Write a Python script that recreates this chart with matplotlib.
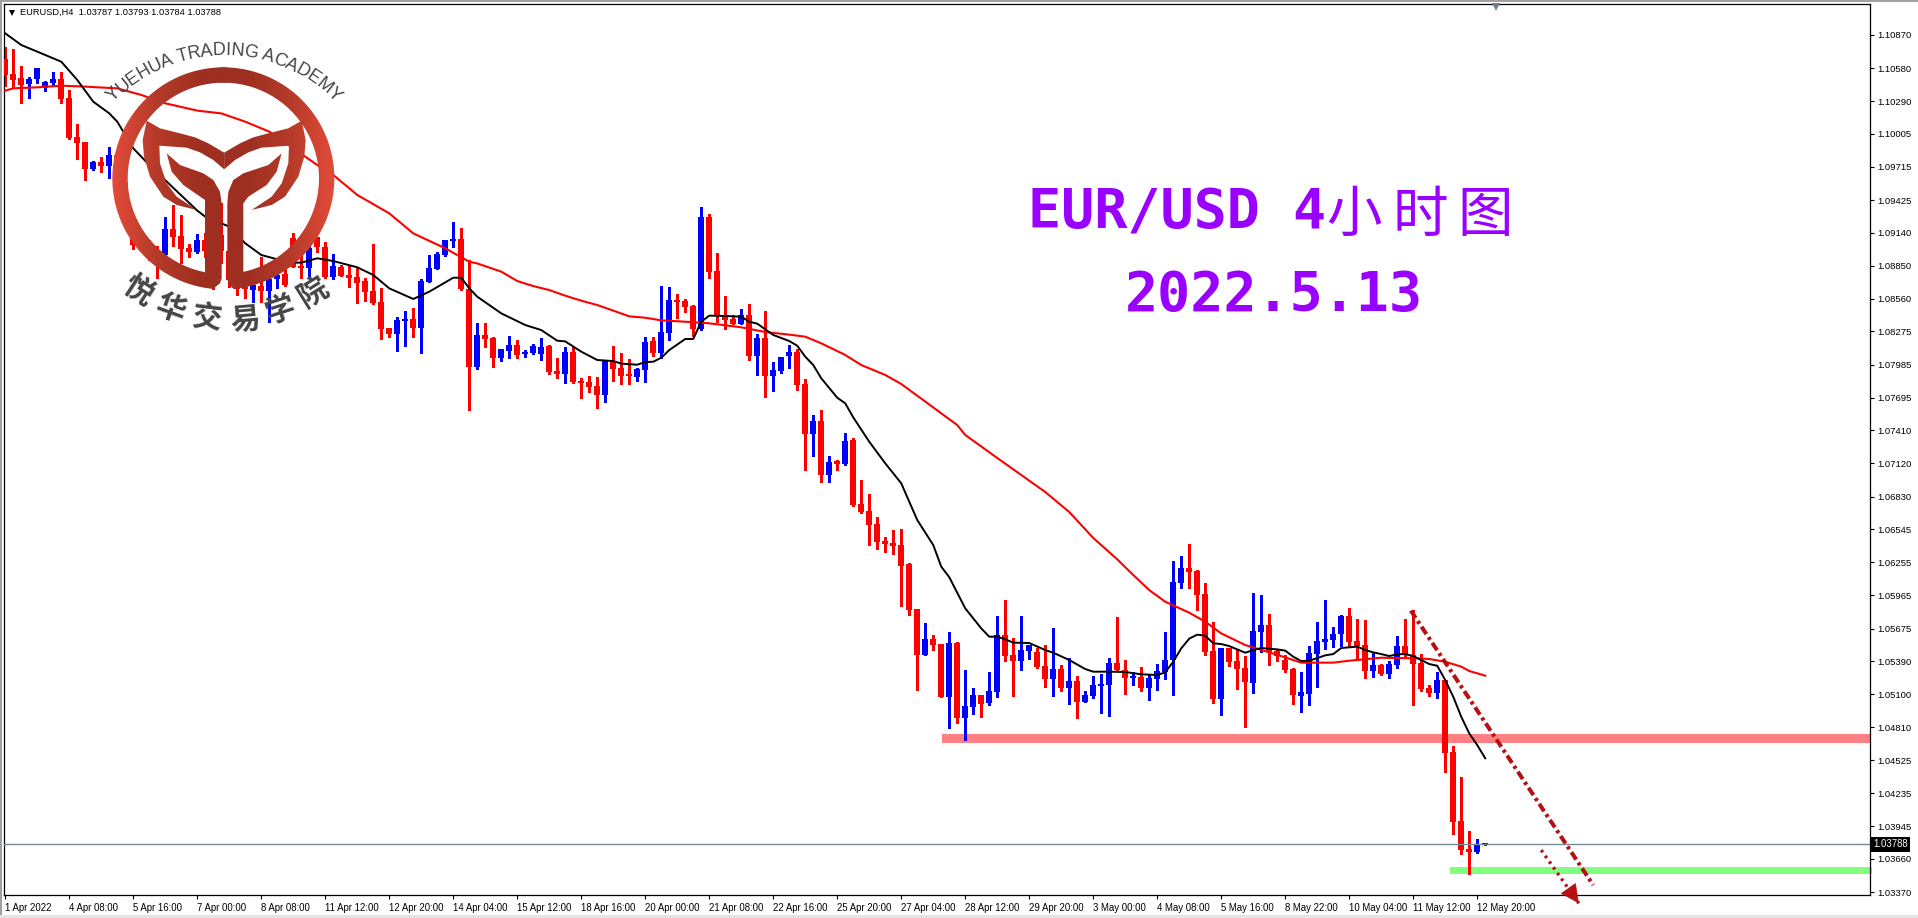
import numpy as np
import matplotlib
matplotlib.use("Agg")
import matplotlib.pyplot as plt
from matplotlib.colors import LinearSegmentedColormap
from matplotlib.font_manager import FontProperties
from matplotlib.patches import PathPatch, Rectangle
from matplotlib.path import Path
from matplotlib.textpath import TextToPath

opens = [
    1.10656,1.10527,1.10490,1.10440,1.10481,1.10402,1.10446,1.10481,1.10315,1.09973,
    1.09930,1.09696,1.09755,1.09725,1.09820,1.09570,1.09133,1.09133,1.09060,1.08987,
    1.08944,1.09168,1.09110,1.09008,1.08973,1.09075,1.08982,1.09119,1.08982,1.08725,
    1.08661,1.08637,1.08672,1.08629,1.08731,1.08778,1.09090,1.08847,1.08833,1.09098,
    1.09011,1.08754,1.08836,1.08769,1.08748,1.08716,1.08629,1.08530,1.08305,1.08255,
    1.08369,1.08381,1.08308,1.08710,1.08824,1.08944,1.09069,1.09084,1.08649,1.07967,
    1.08244,1.08217,1.08045,1.08104,1.08156,1.08080,1.08089,1.08080,1.08147,1.07929,
    1.07905,1.08095,1.07841,1.07832,1.07797,1.07719,1.08016,1.07955,1.07902,1.07876,
    1.07937,1.08191,1.08086,1.08261,1.08550,1.08541,1.08497,1.08296,1.09276,1.08804,
    1.08410,1.08384,1.08340,1.08419,1.08060,1.08217,1.07885,1.07929,1.08060,1.08095,
    1.07815,1.07377,1.07491,1.07019,1.07141,1.07115,1.07325,1.06765,1.06704,1.06590,
    1.06441,1.06424,1.06406,1.06240,1.05846,1.05444,1.05584,1.05540,1.05076,1.05549,
    1.04892,1.04989,1.05094,1.05024,1.05120,1.05619,1.05444,1.05391,1.05479,1.05470,
    1.05347,1.05234,1.05321,1.05155,1.05216,1.05032,1.05085,1.05175,1.05181,1.05374,
    1.05312,1.05245,1.05251,1.05155,1.05234,1.05295,1.05400,1.06074,1.06205,1.06179,
    1.05977,1.05479,1.05059,1.05505,1.05391,1.05330,1.05199,1.05645,1.05706,1.05479,
    1.05400,1.05321,1.05085,1.05102,1.05452,1.05557,1.05575,1.05627,1.05785,1.05566,
    1.05531,1.05304,1.05356,1.05277,1.05356,1.05522,1.05444,1.05374,1.05152,1.05111,
    1.05225,1.04595,1.03991,1.03746,1.03720,1.03787]
highs = [
    1.10767,1.10743,1.10597,1.10498,1.10577,1.10466,1.10545,1.10545,1.10387,1.10087,
    1.09932,1.09766,1.09804,1.09892,1.09850,1.09650,1.09279,1.09162,1.09075,1.09022,
    1.09273,1.09381,1.09294,1.09040,1.09127,1.09133,1.09002,1.09396,1.09017,1.08783,
    1.08754,1.08725,1.08929,1.08783,1.08842,1.08827,1.09133,1.09017,1.09090,1.09104,
    1.09060,1.08952,1.08856,1.08856,1.08827,1.08740,1.09040,1.08652,1.08308,1.08404,
    1.08454,1.08477,1.08731,1.08944,1.08973,1.09075,1.09230,1.09177,1.08900,1.08346,
    1.08346,1.08223,1.08121,1.08235,1.08200,1.08112,1.08162,1.08215,1.08156,1.08045,
    1.08136,1.08142,1.07865,1.07885,1.07876,1.08025,1.08147,1.08086,1.08034,1.07955,
    1.08226,1.08226,1.08672,1.08664,1.08602,1.08559,1.08506,1.09364,1.09302,1.08961,
    1.08585,1.08419,1.08471,1.08515,1.08252,1.08454,1.08007,1.08051,1.08156,1.08121,
    1.07859,1.07544,1.07587,1.07185,1.07150,1.07386,1.07342,1.06975,1.06852,1.06651,
    1.06476,1.06537,1.06546,1.06249,1.05846,1.05724,1.05619,1.05540,1.05645,1.05557,
    1.05312,1.05155,1.05094,1.05295,1.05785,1.05925,1.05592,1.05785,1.05531,1.05502,
    1.05531,1.05680,1.05356,1.05417,1.05260,1.05129,1.05260,1.05277,1.05417,1.05776,
    1.05400,1.05295,1.05339,1.05269,1.05365,1.05645,1.06266,1.06310,1.06415,1.06187,
    1.06074,1.05732,1.05505,1.05505,1.05487,1.05435,1.05986,1.05969,1.05802,1.05487,
    1.05444,1.05327,1.05295,1.05522,1.05732,1.05925,1.05689,1.05794,1.05855,1.05759,
    1.05750,1.05458,1.05365,1.05391,1.05610,1.05759,1.05837,1.05452,1.05181,1.05295,
    1.05225,1.04647,1.04376,1.03904,1.03834,1.03793]
lows = [
    1.10422,1.10411,1.10277,1.10320,1.10446,1.10382,1.10422,1.10277,1.09962,1.09784,
    1.09600,1.09687,1.09673,1.09620,1.09560,1.09300,1.08996,1.08987,1.08900,1.08740,
    1.08871,1.09022,1.08871,1.08929,1.08964,1.08929,1.08643,1.08871,1.08667,1.08594,
    1.08565,1.08535,1.08535,1.08360,1.08652,1.08675,1.08835,1.08745,1.08754,1.08973,
    1.08740,1.08731,1.08760,1.08661,1.08527,1.08541,1.08515,1.08212,1.08229,1.08107,
    1.08150,1.08229,1.08083,1.08710,1.08825,1.08935,1.09017,1.08637,1.07590,1.07943,
    1.08142,1.07967,1.08019,1.08045,1.08045,1.08054,1.08075,1.08025,1.07902,1.07867,
    1.07827,1.07827,1.07692,1.07745,1.07605,1.07657,1.07841,1.07815,1.07815,1.07841,
    1.07832,1.08060,1.08042,1.08200,1.08392,1.08445,1.08235,1.08287,1.08742,1.08357,
    1.08296,1.08340,1.08340,1.08025,1.07894,1.07701,1.07754,1.07911,1.07955,1.07762,
    1.07062,1.07185,1.06958,1.06958,1.07062,1.07106,1.06747,1.06686,1.06406,1.06371,
    1.06345,1.06327,1.05872,1.05794,1.05137,1.05444,1.05487,1.05076,1.04805,1.04849,
    1.04700,1.04927,1.04901,1.05006,1.05076,1.05391,1.05085,1.05312,1.05409,1.05330,
    1.05164,1.05085,1.05129,1.05015,1.04892,1.05032,1.05067,1.04936,1.04910,1.05312,
    1.05102,1.05181,1.05129,1.05050,1.05137,1.05234,1.05094,1.06030,1.06030,1.05837,
    1.05444,1.05024,1.04919,1.05347,1.05146,1.04814,1.05111,1.05470,1.05356,1.05391,
    1.05295,1.05015,1.04945,1.05006,1.05164,1.05496,1.05514,1.05522,1.05514,1.05400,
    1.05242,1.05251,1.05269,1.05245,1.05333,1.05429,1.05006,1.05129,1.05085,1.05067,
    1.04420,1.03878,1.03703,1.03527,1.03711,1.03784]
closes = [
    1.10519,1.10475,1.10431,1.10484,1.10577,1.10455,1.10481,1.10309,1.09970,1.09927,
    1.09696,1.09757,1.09725,1.09816,1.09600,1.09420,1.09031,1.09031,1.08929,1.08871,
    1.09168,1.09104,1.08996,1.08970,1.09075,1.08982,1.08842,1.08982,1.08725,1.08643,
    1.08643,1.08681,1.08629,1.08731,1.08769,1.08681,1.08842,1.08833,1.09002,1.09011,
    1.08754,1.08847,1.08763,1.08745,1.08702,1.08623,1.08527,1.08299,1.08255,1.08372,
    1.08381,1.08308,1.08716,1.08827,1.08950,1.09075,1.09084,1.08649,1.07967,1.08244,
    1.08209,1.08045,1.08121,1.08156,1.08069,1.08089,1.08147,1.08139,1.07920,1.07905,
    1.08095,1.07835,1.07827,1.07789,1.07719,1.08016,1.07946,1.07885,1.07885,1.07946,
    1.08182,1.08086,1.08270,1.08550,1.08532,1.08489,1.08296,1.09276,1.08795,1.08410,
    1.08375,1.08340,1.08419,1.08060,1.08217,1.07885,1.07937,1.08051,1.08095,1.07806,
    1.07377,1.07491,1.07019,1.07132,1.07115,1.07316,1.06756,1.06695,1.06581,1.06432,
    1.06415,1.06398,1.06222,1.05837,1.05444,1.05584,1.05531,1.05076,1.05549,1.04892,
    1.04997,1.05094,1.05015,1.05129,1.05619,1.05435,1.05391,1.05487,1.05531,1.05339,
    1.05234,1.05321,1.05155,1.05216,1.05032,1.05094,1.05181,1.05181,1.05374,1.05312,
    1.05242,1.05251,1.05155,1.05242,1.05304,1.05400,1.06082,1.06205,1.06170,1.05969,
    1.05470,1.05059,1.05505,1.05382,1.05321,1.05207,1.05654,1.05706,1.05470,1.05435,
    1.05312,1.05094,1.05120,1.05461,1.05566,1.05584,1.05627,1.05785,1.05557,1.05522,
    1.05304,1.05356,1.05277,1.05365,1.05522,1.05444,1.05365,1.05146,1.05111,1.05225,
    1.04586,1.03982,1.03737,1.03723,1.03781,1.03788]

# moving averages, read at the bars where they bend
fast_bars = [0,2,4,7,9,11,13,14,16,18,24,25,28,30,32,34,36,37,39,41,44,46,48,51,53,56,57,58,59,
    62,65,67,69,70,72,74,76,77,79,80,81,82,83,85,86,87,88,90,92,93,94,96,98,99,100,101,102,104,
    105,106,108,110,112,114,116,117,118,120,122,123,124,125,126,128,130,131,133,135,136,138,140,
    142,144,145,146,147,148,149,150,151,152,153,155,156,157,159,160,161,162,163,164,165,166,167,
    169,170,171,172,173,174,175,176,177,178,179,180,181,182,183,184,185]
fast_ma = [1.10883,1.10781,1.10723,1.10635,1.10475,1.10285,1.10183,1.10110,1.09877,1.09731,1.09332,
    1.09279,1.09192,1.09046,1.08944,1.08906,1.08877,1.08877,1.08915,1.08891,1.08836,1.08769,1.08652,
    1.08559,1.08623,1.08745,1.08745,1.08652,1.08579,1.08433,1.08331,1.08287,1.08194,1.08188,1.08098,
    1.08025,1.08016,1.07993,1.07984,1.08007,1.08010,1.08045,1.08112,1.08209,1.08209,1.08360,1.08413,
    1.08410,1.08404,1.08360,1.08343,1.08244,1.08191,1.08150,1.08054,1.07981,1.07865,1.07695,1.07646,
    1.07523,1.07310,1.07121,1.06946,1.06625,1.06406,1.06217,1.06125,1.05852,1.05677,1.05604,1.05604,
    1.05581,1.05552,1.05549,1.05487,1.05464,1.05400,1.05321,1.05298,1.05298,1.05295,1.05275,1.05269,
    1.05292,1.05385,1.05502,1.05587,1.05622,1.05613,1.05546,1.05540,1.05522,1.05464,1.05487,1.05505,
    1.05493,1.05482,1.05429,1.05391,1.05394,1.05417,1.05441,1.05452,1.05505,1.05517,1.05487,1.05467,
    1.05452,1.05435,1.05450,1.05452,1.05435,1.05400,1.05365,1.05350,1.05225,1.05079,1.04904,1.04758,
    1.04656,1.04540]
slow_bars = [0,1,4,7,10,14,17,20,24,27,30,33,39,41,44,48,51,55,58,59,62,64,66,68,70,72,74,76,78,80,
    82,85,88,92,95,98,100,102,105,107,110,112,116,119,120,124,127,130,133,136,139,141,143,145,148,
    150,152,155,158,160,162,166,168,172,176,178,180,182,183,185]
slow_ma = [1.10382,1.10402,1.10411,1.10425,1.10417,1.10402,1.10344,1.10271,1.10207,1.10183,1.10110,
    1.10023,1.09731,1.09644,1.09469,1.09308,1.09133,1.09002,1.08885,1.08870,1.08798,1.08716,1.08672,
    1.08637,1.08588,1.08544,1.08506,1.08457,1.08407,1.08395,1.08372,1.08360,1.08346,1.08311,1.08270,
    1.08247,1.08229,1.08171,1.08069,1.07981,1.07894,1.07815,1.07610,1.07456,1.07369,1.07168,1.07019,
    1.06870,1.06695,1.06468,1.06281,1.06144,1.06012,1.05910,1.05814,1.05735,1.05633,1.05531,1.05467,
    1.05423,1.05377,1.05377,1.05394,1.05420,1.05415,1.05409,1.05385,1.05342,1.05304,1.05263]

price_ticks = ["1.10870","1.10580","1.10290","1.10005","1.09715","1.09425","1.09140","1.08850","1.08560",
    "1.08275","1.07985","1.07695","1.07410","1.07120","1.06830","1.06545","1.06255","1.05965","1.05675",
    "1.05390","1.05100","1.04810","1.04525","1.04235","1.03945","1.03660","1.03370"]
time_ticks = ["1 Apr 2022","4 Apr 08:00","5 Apr 16:00","7 Apr 00:00","8 Apr 08:00","11 Apr 12:00",
    "12 Apr 20:00","14 Apr 04:00","15 Apr 12:00","18 Apr 16:00","20 Apr 00:00","21 Apr 08:00",
    "22 Apr 16:00","25 Apr 20:00","27 Apr 04:00","28 Apr 12:00","29 Apr 20:00","3 May 00:00",
    "4 May 08:00","5 May 16:00","8 May 22:00","10 May 04:00","11 May 12:00","12 May 20:00"]
bars_per_tick = 8
last_price = 1.03788
resistance = [1.04674, 1.04752]
support = [1.03527, 1.03589]
trend_bars = [175.7, 198.5]
trend_prices = [1.05832, 1.03431]
arrow_bars = [192.0, 196.7]
arrow_prices = [1.03737, 1.03271]

W, H = 1918, 918
TICK_FONT = "Liberation Sans"

fig = plt.figure(figsize=(W / 100, H / 100), dpi=100, facecolor="white")
ax = fig.add_axes([4 / W, 1 - 895 / H, (1870 - 4) / W, (895 - 4) / H])
ax.set_xlim(-0.1625, 233.1)
ax.set_ylim(1.03344, 1.1114)

bars = np.arange(len(opens))
o, h, l, c = map(np.array, (opens, highs, lows, closes))
up = c > o
colors = np.where(up, "#0000FF", "#FF0000")

ax.fill_between([117.1, 233.1], *resistance, color="#FF8080", lw=0, zorder=1)
ax.fill_between([180.6, 233.3], *support, color="#80FF80", lw=0, zorder=1, clip_on=False)

ax.vlines(bars, l, h, colors=colors, lw=0.8, zorder=2, antialiased=False)
min_body = 1.6 * 8.75e-5
ax.bar(bars, np.maximum(np.abs(c - o), min_body), bottom=np.minimum(o, c), width=0.7,
       color=colors, lw=0, zorder=3, antialiased=False)

ax.plot(slow_bars, slow_ma, color="#FF0000", lw=1.5, zorder=4)
ax.plot(fast_bars, fast_ma, color="black", lw=1.4, zorder=5)

ax.axhline(last_price, color="#778899", lw=1, zorder=6)

ax.plot(trend_bars, trend_prices, color="#B80F14", lw=2.9, zorder=7, clip_on=False,
        dashes=(2.2, 0.9, 0.8, 0.9))
ax.plot(arrow_bars, arrow_prices, color="#B80F14", lw=2.4, zorder=7, clip_on=False,
        dashes=(0.8, 1.3))
ax.annotate("", xy=(arrow_bars[1], arrow_prices[1]),
            xytext=(arrow_bars[1] - 0.75, arrow_prices[1] + 0.00075),
            arrowprops=dict(arrowstyle="-|>,head_length=1.25,head_width=0.62", color="#B80F14",
                            lw=0.5, shrinkA=0, shrinkB=0), zorder=8, annotation_clip=False)

for side in ax.spines.values():
    side.set_linewidth(0.9)
ax.yaxis.tick_right()
ax.set_yticks([float(t) for t in price_ticks])
ax.set_yticklabels(price_ticks, fontsize=6.8, family=TICK_FONT)
ax.set_xticks(np.arange(len(time_ticks)) * bars_per_tick)
ax.set_xticklabels(time_ticks, fontsize=6.9, family=TICK_FONT, ha="left")
ax.tick_params(axis="y", length=3, width=0.8, pad=2.5)
ax.tick_params(axis="x", length=3, width=0.8, pad=2.5)

ax.annotate("1.03788", xy=(1.0016, last_price), xycoords=ax.get_yaxis_transform(),
            fontsize=6.9, family=TICK_FONT, color="white", va="center", ha="left", zorder=10,
            annotation_clip=False,
            bbox=dict(boxstyle="square,pad=0.28", fc="black", ec="black", lw=0))

# everything below sits in screen pixels on top of the chart
top = fig.add_axes([0, 0, 1, 1], facecolor="none")
top.axis("off")

top.add_patch(Rectangle((0, 0), W, 2, color="#A0A0A0", lw=0))
top.add_patch(Rectangle((0, 0), 2, H, color="#A0A0A0", lw=0))
top.add_patch(Rectangle((0, 915), W, 3, color="#E4E4E4", lw=0))

top.plot([1495.5], [7], marker="v", ms=6, color="#708090", mew=0)
top.plot([11.5], [12.5], marker="v", ms=5, color="black", mew=0)
top.text(20, 12.5, "EURUSD,H4  1.03787 1.03793 1.03784 1.03788", fontsize=6.7, family=TICK_FONT,
         va="center", ha="left", color="black")

purple = "#9900FF"
top.text(1028, 228, "EUR/USD 4", family="DejaVu Sans Mono", weight="bold", fontsize=39.6, color=purple,
         va="baseline", ha="left")
for ch, xc in zip("小时图", [1354, 1420, 1485]):
    top.text(xc, 216, ch, family="Noto Sans CJK SC", weight="medium", fontsize=40, color=purple,
             va="center", ha="center")
top.text(1125, 311, "2022.5.13", family="DejaVu Sans Mono", weight="bold", fontsize=39.6, color=purple,
         va="baseline", ha="left")

# logo outline, traced at three times pixel size and mirrored about the stem
AXIS = 672.5
CX, CY, R_OUT, R_IN = 670, 535, 333, 287


def arc(r, a0, a1):
    a = np.radians(np.linspace(a0, a1, 90))
    return np.column_stack([CX + r * np.cos(a), CY + r * np.sin(a)])


def mirror(pts):
    pts = np.array(pts, dtype=float)
    pts[:, 0] = 2 * AXIS - pts[:, 0]
    return pts


ring_left = np.vstack([arc(R_OUT, 95, 272), arc(R_IN, 272, 100),
                       [[615, 815], [665, 835]], [[660, 850], [640, 866]]])
ring_right = np.vstack([arc(R_OUT, -92, 85), [[700, 866], [685, 850], [682, 835], [730, 815]],
                        arc(R_IN, 80, -92)])
lobe_left = [(440, 362), (480, 385), (540, 400), (585, 412), (625, 430), (672.5, 458), (672.5, 508),
             (640, 480), (600, 457), (560, 443), (478, 437), (480, 490), (500, 550), (530, 590),
             (590, 630), (530, 615), (490, 590), (450, 530), (432, 470), (428, 420)]
stem_left = [(500, 460), (540, 495), (610, 520), (640, 540), (660, 575), (665, 610), (665, 835),
             (640, 866), (615, 815), (615, 600), (550, 555), (515, 515)]
stem_right = [(845, 460), (805, 495), (730, 520), (700, 540), (685, 575), (682, 610), (682, 835),
              (700, 866), (730, 815), (730, 610), (745, 590), (800, 555), (830, 515)]
shapes = [ring_left, ring_right, np.array(lobe_left, float), mirror(lobe_left), np.array(stem_left, float),
          np.array(stem_right, float)]

red_fade = LinearSegmentedColormap.from_list("logo", ["#E34B39", "#B53A29", "#9E2F21", "#9E2F21", "#B53A29", "#E34B39"])
sweep = np.linspace(0, 1, 256).reshape(1, -1)
for pts in shapes:
    patch = PathPatch(Path(pts / 3, closed=False), fc="none", ec="none", transform=top.transData)
    top.add_patch(patch)
    img = top.imshow(sweep, cmap=red_fade, extent=(337 / 3, 1006 / 3, 900 / 3, 200 / 3), aspect="auto", zorder=3)
    img.set_clip_path(patch)
top.set_xlim(0, W)
top.set_ylim(H, 0)

# curved lettering above the ring
grey = "#454545"
title_font = FontProperties(family="Liberation Sans", size=13)
measure = TextToPath()
label = "YUEHUA TRADING ACADEMY"
widths = np.array([measure.get_text_width_height_descent(ch, title_font, False)[0] for ch in label], dtype=float)
arc_x, arc_y, arc_r = 672 / 3, 628 / 3, 463 / 3
steps = widths / widths.sum() * np.radians(92)
angle = -steps.sum() / 2
for ch, step in zip(label, steps):
    mid = angle + step / 2
    top.text(arc_x + arc_r * np.sin(mid), arc_y - arc_r * np.cos(mid), ch, fontproperties=title_font, color=grey,
             rotation=-np.degrees(mid), rotation_mode="anchor", ha="center", va="baseline", zorder=6)
    angle += step

for ch, xc, yc, rot in zip("悦华交易学院", [415, 510, 620, 735, 840, 940], [870, 925, 955, 960, 930, 875],
                           [-33, -20, -7, 5, 18, 32]):
    top.text(xc / 3, yc / 3, ch, family="Noto Sans CJK SC", weight="bold", fontsize=21.5, color=grey,
             rotation=rot, rotation_mode="anchor", ha="center", va="center", zorder=6)

fig.savefig("out.png", dpi=100, facecolor="white")
